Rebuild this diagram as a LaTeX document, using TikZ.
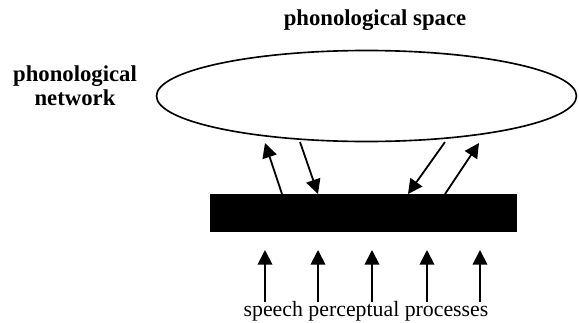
\documentclass[tikz,border=0pt]{standalone}
\usepackage{fontspec}
\setmainfont{Liberation Serif}
\usetikzlibrary{arrows.meta,positioning,calc,shapes.geometric}
\tikzset{
  lbl/.style={font=\bfseries\fontsize{12.5}{13}\selectfont, align=center},
  arr/.style={-{Triangle[length=8pt, width=8pt]}, line width=1pt},
}

\begin{document}
\begin{tikzpicture}[x=0.55pt, y=-0.55pt]
  \useasboundingbox (0,0) rectangle (579,322);
  \node[draw, ellipse, line width=0.9pt, minimum width=420*0.55pt, minimum height=91*0.55pt, inner sep=0pt] (net) at (366.5,96) {};
  \node[lbl] (space) at (375,20) {phonological space};
  \node[lbl] (netlbl) at (75,85.5) {phonological\\network};
  \node[fill=black, minimum width=307*0.55pt, minimum height=38*0.55pt, inner sep=0pt] (bar) at (363.5,213) {};
  \node[font=\fontsize{12}{14}\selectfont, inner sep=0pt] (spp) at (366,311) {speech perceptual processes};
  % between the network and the bar
  \coordinate (u1) at (282,194); \coordinate (u1e) at (265,143);
  \coordinate (d1) at (300,142); \coordinate (d1e) at (318,194);
  \coordinate (d2) at (445,142); \coordinate (d2e) at (408,194);
  \coordinate (u2) at (445,194); \coordinate (u2e) at (479,143);
  \draw[arr] (u1) -- (u1e); \draw[arr] (d1) -- (d1e);
  \draw[arr] (d2) -- (d2e); \draw[arr] (u2) -- (u2e);
  % input arrows
  \foreach \x in {265,318,372,427,480} {
    \coordinate (in\x) at (\x,302);
    \coordinate (out\x) at (\x,250);
    \draw[arr] (in\x) -- (out\x);
  }
\end{tikzpicture}
\end{document}
